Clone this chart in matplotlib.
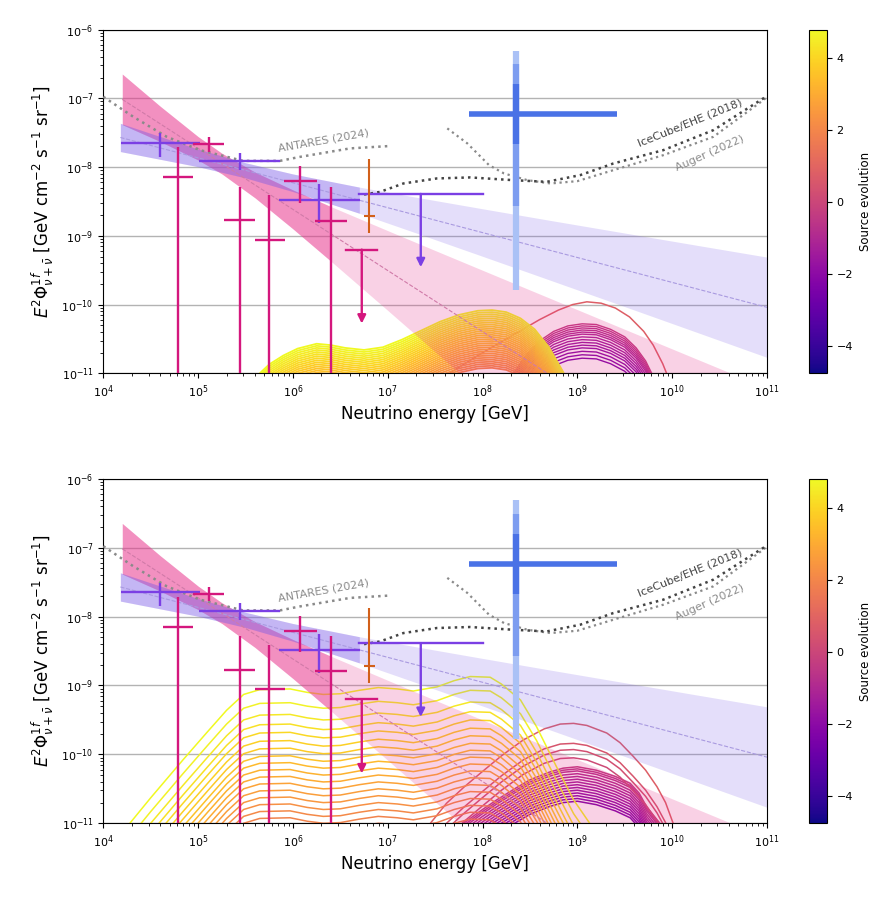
import numpy as np
import matplotlib.pyplot as plt
from matplotlib.colors import Normalize
from matplotlib.cm import ScalarMappable
from matplotlib.patches import FancyArrowPatch

# ---------------- power-law fit bands (log10 E [GeV], log10 E^2 Phi) ----------------
pink_logE = [4.2, 4.6, 5.0, 5.25, 5.6, 6.0, 6.4, 7.0, 7.5, 8.0, 8.5, 9.0, 9.5, 10.0, 10.5, 11.0]
pink_up = [-6.648, -7.116, -7.558, -7.799, -8.074, -8.333, -8.575, -8.925, -9.214, -9.501,
           -9.788, -10.074, -10.36, -10.645, -10.93, -11.215]
pink_lo = [-7.384, -7.629, -7.898, -8.099, -8.448, -8.899, -9.369, -10.085, -10.687, -11.287,
           -11.89, -12.49, -13.1, -13.7, -14.3, -14.9]
pink_mid_logE = [4.2, 11.0]
pink_mid = [-7.016, -13.061]
pink_fit_max = 6.4

purple_logE = [4.18, 5.0, 5.5, 6.0, 6.7, 7.3, 8.0, 8.7, 9.5, 10.2, 11.0]
purple_up = [-7.365, -7.739, -7.938, -8.101, -8.292, -8.439, -8.607, -8.773, -8.96, -9.124, -9.31]
purple_lo = [-7.775, -7.995, -8.158, -8.357, -8.672, -8.959, -9.298, -9.639, -10.03, -10.374, -10.768]
purple_mid_logE = [4.18, 11.0]
purple_mid = [-7.57, -10.04]
purple_fit_max = 6.7

# ---------------- data points ----------------
pur_E = [3.97e4, 2.77e5, 1.9e6]
pur_Elo = [1.53e4, 1.03e5, 7.2e5]
pur_Ehi = [1.05e5, 7.3e5, 5.1e6]
pur_F = [2.25e-8, 1.21e-8, 3.3e-9]
pur_Fhi = [3.08e-8, 1.58e-8, 5.6e-9]
pur_Flo = [1.41e-8, 9.0e-9, 1.54e-9]
pur_ul_E = 2.23e7
pur_ul_Erange = [5.0e6, 1.02e8]
pur_ul_F = 4.07e-9
pur_ul_end = 3.5e-10

mag_E = [6.1e4, 1.29e5, 2.75e5, 5.63e5, 1.19e6, 2.5e6]
mag_Elo = [4.24e4, 8.9e4, 1.88e5, 3.98e5, 8.05e5, 1.72e6]
mag_Ehi = [8.9e4, 1.89e5, 4.0e5, 8.3e5, 1.78e6, 3.7e6]
mag_F = [7.06e-9, 2.15e-8, 1.69e-9, 8.8e-10, 6.24e-9, 1.63e-9]
mag_Fhi = [1.93e-8, 2.7e-8, 5.15e-9, 3.9e-9, 1.03e-8, 5.15e-9]
mag_Flo = [1e-12, 1.66e-8, 1e-12, 1e-12, 3.05e-9, 1e-12]
mag_ul_E = 5.32e6
mag_ul_Erange = [3.63e6, 7.77e6]
mag_ul_F = 6.3e-10
mag_ul_end = 5.3e-11

org_E = 6.4e6
org_Erange = [5.6e6, 7.4e6]
org_F = 1.95e-9
org_Frange = [1.1e-9, 1.33e-8]

km3_E = 2.24e8
km3_Erange = [7.26e7, 2.64e9]
km3_F = 5.89e-8
km3_1s = [2.16e-8, 1.59e-7]
km3_2s = [2.72e-9, 3.11e-7]
km3_3s = [1.65e-10, 4.87e-7]

# ---------------- sensitivity curves ----------------
antares_logE = [4.0, 4.316, 4.669, 5.02, 5.474, 5.864, 6.075, 6.602, 7.0]
antares_logF = [-6.978, -7.269, -7.56, -7.754, -7.91, -7.91, -7.852, -7.729, -7.696]
ehe_logE = [6.75, 6.919, 7.165, 7.517, 7.869, 8.325, 8.677, 9.029, 9.38, 9.907, 10.435, 10.962, 11.0]
ehe_logF = [-8.40, -8.361, -8.239, -8.166, -8.151, -8.191, -8.215, -8.118, -7.948, -7.754, -7.463,
            -7.001, -6.97]
auger_logE = [7.628, 7.839, 8.068, 8.226, 8.472, 8.717, 9.0, 9.38, 9.907, 10.435, 10.962, 11.0]
auger_logF = [-7.438, -7.656, -7.972, -8.093, -8.191, -8.239, -8.205, -8.045, -7.827, -7.56, -7.026, -6.98]

# ---------------- model curve shapes (log10 E, log10 flux of the top curve) ----------------
ytop_logE = [5.55, 5.65, 5.75, 5.9, 6.05, 6.25, 6.4, 6.55, 6.75, 6.95, 7.15, 7.35, 7.55, 7.75,
             7.95, 8.1, 8.25, 8.4, 8.55, 8.7, 8.85, 8.95]
ytop_logF = [-11.25, -11.0, -10.87, -10.74, -10.64, -10.57, -10.59, -10.63, -10.66, -10.62, -10.51,
             -10.38, -10.25, -10.15, -10.09, -10.08, -10.11, -10.2, -10.36, -10.62, -10.98, -11.3]
rtop_logE = [7.55, 7.65, 7.8, 8.0, 8.2, 8.4, 8.6, 8.8, 8.95, 9.1, 9.25, 9.4, 9.55, 9.7, 9.8, 9.9, 9.97]
rtop_logF = [-11.15, -11.0, -10.87, -10.7, -10.54, -10.38, -10.22, -10.08, -10.0, -9.96, -9.98,
             -10.05, -10.18, -10.39, -10.59, -10.86, -11.1]
ptop_logE = [8.2, 8.3, 8.45, 8.6, 8.75, 8.9, 9.05, 9.2, 9.35, 9.5, 9.62, 9.72, 9.82]
ptop_logF = [-11.25, -11.05, -10.75, -10.53, -10.39, -10.31, -10.28, -10.29, -10.36, -10.47,
             -10.63, -10.82, -11.1]

ybot_logE = [4.2, 4.28, 4.5, 4.84, 5.1, 5.3, 5.48, 5.65, 5.97, 6.15, 6.32, 6.5, 6.7, 6.9, 7.1,
             7.27, 7.52, 7.7, 7.87, 8.08, 8.2, 8.4, 8.57, 8.78, 8.96, 9.13, 9.2]
ybot_logF = [-11.13, -11.0, -10.63, -10.08, -9.67, -9.36, -9.13, -9.06, -9.05, -9.1, -9.13, -9.12,
             -9.07, -9.03, -9.05, -9.08, -9.02, -8.93, -8.87, -8.88, -8.98, -9.21, -9.6, -10.18,
             -10.66, -11.0, -11.15]
rbot_logE = [7.35, 7.45, 7.62, 7.8, 7.98, 8.2, 8.43, 8.65, 8.82, 8.96, 9.1, 9.31, 9.45, 9.59,
             9.72, 9.84, 9.93, 10.01, 10.05]
rbot_logF = [-11.2, -11.0, -10.71, -10.48, -10.27, -10.02, -9.79, -9.63, -9.56, -9.55, -9.58,
             -9.69, -9.83, -10.03, -10.23, -10.47, -10.7, -11.0, -11.2]
pbot_logE = [7.6, 7.8, 8.0, 8.15, 8.35, 8.5, 8.7, 8.85, 9.0, 9.2, 9.4, 9.556, 9.65, 9.73, 9.8,
             9.87, 9.93]
pbot_logF = [-11.3, -11.0, -10.8, -10.66, -10.49, -10.37, -10.26, -10.2, -10.18, -10.23, -10.32,
             -10.42, -10.56, -10.76, -10.88, -11.0, -11.2]

# source evolution value and vertical shift (dex) of every curve
top_yellow_m = [4.8, 4.7, 4.6, 4.5, 4.4, 4.3, 4.2, 4.1, 4.0, 3.9, 3.8, 3.7, 3.6, 3.5, 3.4,
                3.3, 3.2, 3.1, 3.0, 2.9, 2.8, 2.7, 2.6, 2.5, 2.4, 2.3, 2.2, 2.1, 2.0]
top_yellow_shift = [0.0, -0.03, -0.06, -0.09, -0.12, -0.15, -0.18, -0.21, -0.24, -0.27, -0.30,
                    -0.33, -0.36, -0.39, -0.42, -0.45, -0.48, -0.51, -0.54, -0.57, -0.60, -0.63,
                    -0.66, -0.69, -0.72, -0.75, -0.78, -0.81, -0.84]
top_rose_m = [0.8]
top_rose_shift = [0.0]
top_purple_m = [-0.4, -0.55, -0.7, -0.85, -1.0, -1.15, -1.3, -1.45, -1.6, -1.75, -1.9, -2.05, -2.2, -2.35]
top_purple_shift = [0.0, -0.03, -0.06, -0.09, -0.12, -0.15, -0.19, -0.23, -0.27, -0.31, -0.35,
                    -0.40, -0.45, -0.5]

bot_yellow_m = [4.8, 4.62, 4.44, 4.26, 4.08, 3.9, 3.72, 3.54, 3.36, 3.18, 3.0, 2.82, 2.64, 2.46,
                2.28, 2.1, 1.92, 1.74, 1.56, 1.38, 1.2]
bot_yellow_shift = [0.0, -0.2, -0.37, -0.51, -0.63, -0.75, -0.86, -0.97, -1.07, -1.17, -1.27,
                    -1.37, -1.47, -1.57, -1.67, -1.77, -1.87, -1.97, -2.07, -2.17, -2.27]
bot_rose_m = [0.8, 0.5, 0.3, 0.1]
bot_rose_shift = [0.0, -0.29, -0.38, -0.5]
bot_purple_m = [-0.4, -0.55, -0.7, -0.85, -1.0, -1.15, -1.3, -1.45, -1.6, -1.75, -1.9, -2.05, -2.2, -2.35]
bot_purple_shift = [0.0, -0.03, -0.06, -0.1, -0.14, -0.18, -0.22, -0.26, -0.3, -0.34, -0.38,
                    -0.42, -0.46, -0.5]

x_ticks = [1e4, 1e5, 1e6, 1e7, 1e8, 1e9, 1e10, 1e11]
y_ticks = [1e-11, 1e-10, 1e-9, 1e-8, 1e-7, 1e-6]

cmap = plt.get_cmap('plasma')
norm = Normalize(vmin=-4.75, vmax=4.8)

PINK = '#e8308a'
PURPLE_BAND = '#7b5ce8'
C_PUR = '#7b3fe4'
C_MAG = '#d4177d'
C_ORG = '#d2601a'


def family(ax, tE, tF, ms, shifts, lw):
    E = 10 ** np.array(tE)
    for m, s in zip(ms, shifts):
        ax.plot(E, 10 ** (np.array(tF) + s), color=cmap(norm(m)), lw=lw, zorder=1)


def band(ax, logE, up, lo, fit_max, color, a_light, a_dark):
    logE = np.array(logE)
    up = 10 ** np.array(up)
    lo = 10 ** np.array(lo)
    ax.fill_between(10 ** logE, lo, up, color=color, alpha=a_light, lw=0, zorder=2)
    sel = logE <= fit_max + 1e-9
    ax.fill_between(10 ** logE[sel], lo[sel], up[sel], color=color, alpha=a_dark, lw=0, zorder=2)


def down_arrow(ax, x, y0, y1, color):
    ax.add_patch(FancyArrowPatch((x, y0), (x, y1), arrowstyle='-|>', color=color, lw=1.7,
                                 shrinkA=0, shrinkB=0, mutation_scale=12, zorder=4))


def panel(ax, curves):
    for args in curves:
        family(ax, *args)

    band(ax, pink_logE, pink_up, pink_lo, pink_fit_max, PINK, 0.22, 0.4)
    band(ax, purple_logE, purple_up, purple_lo, purple_fit_max, PURPLE_BAND, 0.2, 0.3)
    ax.plot(10 ** np.array(pink_mid_logE), 10 ** np.array(pink_mid), ls='--', lw=0.8,
            color='#d07aa8', zorder=2.5)
    ax.plot(10 ** np.array(purple_mid_logE), 10 ** np.array(purple_mid), ls='--', lw=0.8,
            color='#a99ae0', zorder=2.5)

    ax.plot(10 ** np.array(antares_logE), 10 ** np.array(antares_logF), ls=':', lw=1.8,
            color='#8a8a8a', zorder=3)
    ax.plot(10 ** np.array(auger_logE), 10 ** np.array(auger_logF), ls=':', lw=1.6,
            color='#8a8a8a', zorder=3)
    ax.plot(10 ** np.array(ehe_logE), 10 ** np.array(ehe_logF), ls=':', lw=1.8,
            color='#444444', zorder=3)
    ax.text(10 ** 6.32, 10 ** -7.62, 'ANTARES (2024)', color='#8a8a8a', fontsize=8,
            rotation=10, ha='center', va='center', rotation_mode='anchor')
    ax.text(10 ** 10.19, 10 ** -7.36, 'IceCube/EHE (2018)', color='#444444', fontsize=8,
            rotation=22, ha='center', va='center', rotation_mode='anchor')
    ax.text(10 ** 10.4, 10 ** -7.8, 'Auger (2022)', color='#8a8a8a', fontsize=8,
            rotation=24, ha='center', va='center', rotation_mode='anchor')

    # IceCube data
    E = np.array(pur_E)
    F = np.array(pur_F)
    ax.errorbar(E, F, xerr=[E - np.array(pur_Elo), np.array(pur_Ehi) - E],
                yerr=[F - np.array(pur_Flo), np.array(pur_Fhi) - F],
                fmt='none', ecolor=C_PUR, elinewidth=1.7, capsize=0, zorder=4)
    ax.plot(pur_ul_Erange, [pur_ul_F, pur_ul_F], color=C_PUR, lw=1.7, zorder=4)
    down_arrow(ax, pur_ul_E, pur_ul_F, pur_ul_end, C_PUR)

    E = np.array(mag_E)
    F = np.array(mag_F)
    ax.errorbar(E, F, xerr=[E - np.array(mag_Elo), np.array(mag_Ehi) - E],
                yerr=[F - np.array(mag_Flo), np.array(mag_Fhi) - F],
                fmt='none', ecolor=C_MAG, elinewidth=1.7, capsize=0, zorder=4)
    ax.plot(mag_ul_Erange, [mag_ul_F, mag_ul_F], color=C_MAG, lw=1.7, zorder=4)
    down_arrow(ax, mag_ul_E, mag_ul_F, mag_ul_end, C_MAG)

    ax.errorbar([org_E], [org_F], xerr=[[org_E - org_Erange[0]], [org_Erange[1] - org_E]],
                yerr=[[org_F - org_Frange[0]], [org_Frange[1] - org_F]],
                fmt='none', ecolor=C_ORG, elinewidth=1.5, capsize=0, zorder=4)

    # KM3NeT event
    ax.plot([km3_E, km3_E], km3_3s, color='#aac1f6', lw=4.5, solid_capstyle='butt', zorder=5)
    ax.plot([km3_E, km3_E], km3_2s, color='#7d9df0', lw=4.5, solid_capstyle='butt', zorder=5)
    ax.plot([km3_E, km3_E], km3_1s, color='#4a72e6', lw=4.5, solid_capstyle='butt', zorder=5)
    ax.plot(km3_Erange, [km3_F, km3_F], color='#4a72e6', lw=4, solid_capstyle='butt', zorder=5)

    ax.set_xscale('log')
    ax.set_yscale('log')
    ax.set_xticks(x_ticks)
    ax.set_yticks(y_ticks)
    ax.set_xlim(1e4, 1e11)
    ax.set_ylim(1e-11, 1e-6)
    ax.yaxis.grid(True, which='major', color='#b3b3b3', lw=1)
    ax.set_axisbelow(True)
    ax.tick_params(labelsize=8)
    ax.set_xlabel('Neutrino energy [GeV]', fontsize=12)
    ax.set_ylabel(r'$E^2\Phi^{1f}_{\nu+\bar{\nu}}$ [GeV cm$^{-2}$ s$^{-1}$ sr$^{-1}$]', fontsize=12)


fig = plt.figure(figsize=(8.93, 8.97), dpi=100)
ax_top = fig.add_axes([0.1157, 0.5838, 0.7432, 0.3833])
ax_bot = fig.add_axes([0.1157, 0.0822, 0.7432, 0.3840])

top_curves = [
    (ptop_logE, ptop_logF, top_purple_m[::-1], top_purple_shift[::-1], 1.0),
    (rtop_logE, rtop_logF, top_rose_m, top_rose_shift, 1.1),
    (ytop_logE, ytop_logF, top_yellow_m[::-1], top_yellow_shift[::-1], 1.3),
]
bot_curves = [
    (pbot_logE, pbot_logF, bot_purple_m[::-1], bot_purple_shift[::-1], 1.1),
    (rbot_logE, rbot_logF, bot_rose_m[::-1], bot_rose_shift[::-1], 1.1),
    (ybot_logE, ybot_logF, bot_yellow_m[::-1], bot_yellow_shift[::-1], 1.1),
]
panel(ax_top, top_curves)
panel(ax_bot, bot_curves)

sm = ScalarMappable(norm=norm, cmap=cmap)
for ax in (ax_top, ax_bot):
    pos = ax.get_position()
    cax = fig.add_axes([0.906, pos.y0, 0.0198, pos.height])
    cb = fig.colorbar(sm, cax=cax)
    cb.set_ticks([-4, -2, 0, 2, 4])
    cb.ax.tick_params(labelsize=8)
    cb.set_label('Source evolution', fontsize=8.5)

fig.savefig('out.png', dpi=100)
